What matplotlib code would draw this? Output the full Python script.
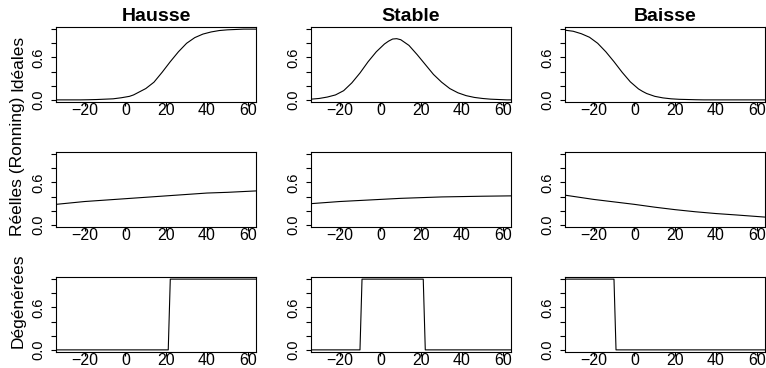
import matplotlib
matplotlib.use("Agg")
import matplotlib.pyplot as plt

plt.rcParams["font.family"] = ["Liberation Sans", "DejaVu Sans"]

# colonnes et lignes
columns = ["Hausse", "Stable", "Baisse"]
rows = ["Idéales", "Réelles (Ronning)", "Dégénérées"]

# courbes idéales
x_ideal = [-34, -30, -26, -22, -18, -14, -10, -6, -2, 2, 4, 6, 8, 10, 14,
           18, 22, 26, 30, 34, 38, 42, 46, 50, 54, 58, 62, 64]
hausse_ideal = [0.0, 0.0, 0.0, 0.0, 0.002, 0.005, 0.01, 0.015, 0.03, 0.05,
                0.07, 0.10, 0.13, 0.16, 0.25, 0.39, 0.54, 0.68, 0.80, 0.88,
                0.93, 0.96, 0.98, 0.99, 0.995, 1.0, 1.0, 1.0]
stable_ideal = [0.01, 0.02, 0.04, 0.07, 0.13, 0.24, 0.38, 0.54, 0.68, 0.79,
                0.83, 0.86, 0.865, 0.85, 0.77, 0.64, 0.50, 0.36, 0.25, 0.16,
                0.10, 0.06, 0.035, 0.02, 0.01, 0.005, 0.0, 0.0]
baisse_ideal = [0.985, 0.97, 0.935, 0.885, 0.80, 0.68, 0.54, 0.39, 0.255,
                0.155, 0.12, 0.09, 0.07, 0.05, 0.028, 0.015, 0.008, 0.005,
                0.002, 0.0, 0.0, 0.0, 0.0, 0.0, 0.0, 0.0, 0.0, 0.0]

# courbes réelles (Ronning)
x_real = [-34, -20, -10, 0, 10, 20, 30, 40, 50, 64]
hausse_real = [0.29, 0.33, 0.35, 0.37, 0.39, 0.41, 0.43, 0.45, 0.46, 0.48]
stable_real = [0.30, 0.33, 0.345, 0.36, 0.375, 0.385, 0.395, 0.40, 0.405, 0.41]
baisse_real = [0.42, 0.36, 0.325, 0.29, 0.25, 0.215, 0.185, 0.16, 0.14, 0.11]

# courbes dégénérées (marches)
x_hausse_deg = [-34, 21, 22, 64]
hausse_deg = [0, 0, 1, 1]
x_stable_deg = [-34, -10, -9, 21, 22, 64]
stable_deg = [0, 0, 1, 1, 0, 0]
x_baisse_deg = [-34, -10, -9, 64]
baisse_deg = [1, 1, 0, 0]

x_ticks = [-20, 0, 20, 40, 60]
y_ticks = [0.0, 0.2, 0.4, 0.6, 0.8, 1.0]
y_ticklabels = ["0.0", "", "", "0.6", "", ""]

series = [
    [(x_ideal, hausse_ideal), (x_ideal, stable_ideal), (x_ideal, baisse_ideal)],
    [(x_real, hausse_real), (x_real, stable_real), (x_real, baisse_real)],
    [(x_hausse_deg, hausse_deg), (x_stable_deg, stable_deg), (x_baisse_deg, baisse_deg)],
]

W, H = 766, 368
fig = plt.figure(figsize=(W / 100, H / 100), dpi=100)

col_left = [56, 311, 565]
row_top = [27, 152, 277]
pw, ph = 200, 75

for i in range(3):
    for j in range(3):
        l, t = col_left[j], row_top[i]
        ax = fig.add_axes([l / W, (H - t - ph) / H, pw / W, ph / H])
        xs, ys = series[i][j]
        ax.plot(xs, ys, color="black", lw=0.8)
        ax.set_xlim(-34, 64)
        ax.set_ylim(-0.03, 1.03)
        ax.set_xticks(x_ticks)
        ax.set_xticklabels([str(v).replace("-", "\u2212") for v in x_ticks])
        ax.set_yticks(y_ticks)
        ax.set_yticklabels(y_ticklabels, rotation=90, va="center")
        ax.tick_params(axis="x", length=3, width=0.8, pad=-2.5, labelsize=11.5)
        ax.tick_params(axis="y", length=3.5, width=0.8, pad=4.5, labelsize=10.5)
        for sp in ax.spines.values():
            sp.set_linewidth(0.8)
        if i == 0:
            ax.set_title(columns[j], fontsize=14, fontweight="bold", pad=4)

label_cy = [63, 166, 301]
for i in range(3):
    fig.text(18 / W, 1 - label_cy[i] / H, rows[i], rotation=90,
             ha="center", va="center", fontsize=12.5)

fig.savefig("out.png", dpi=100)
